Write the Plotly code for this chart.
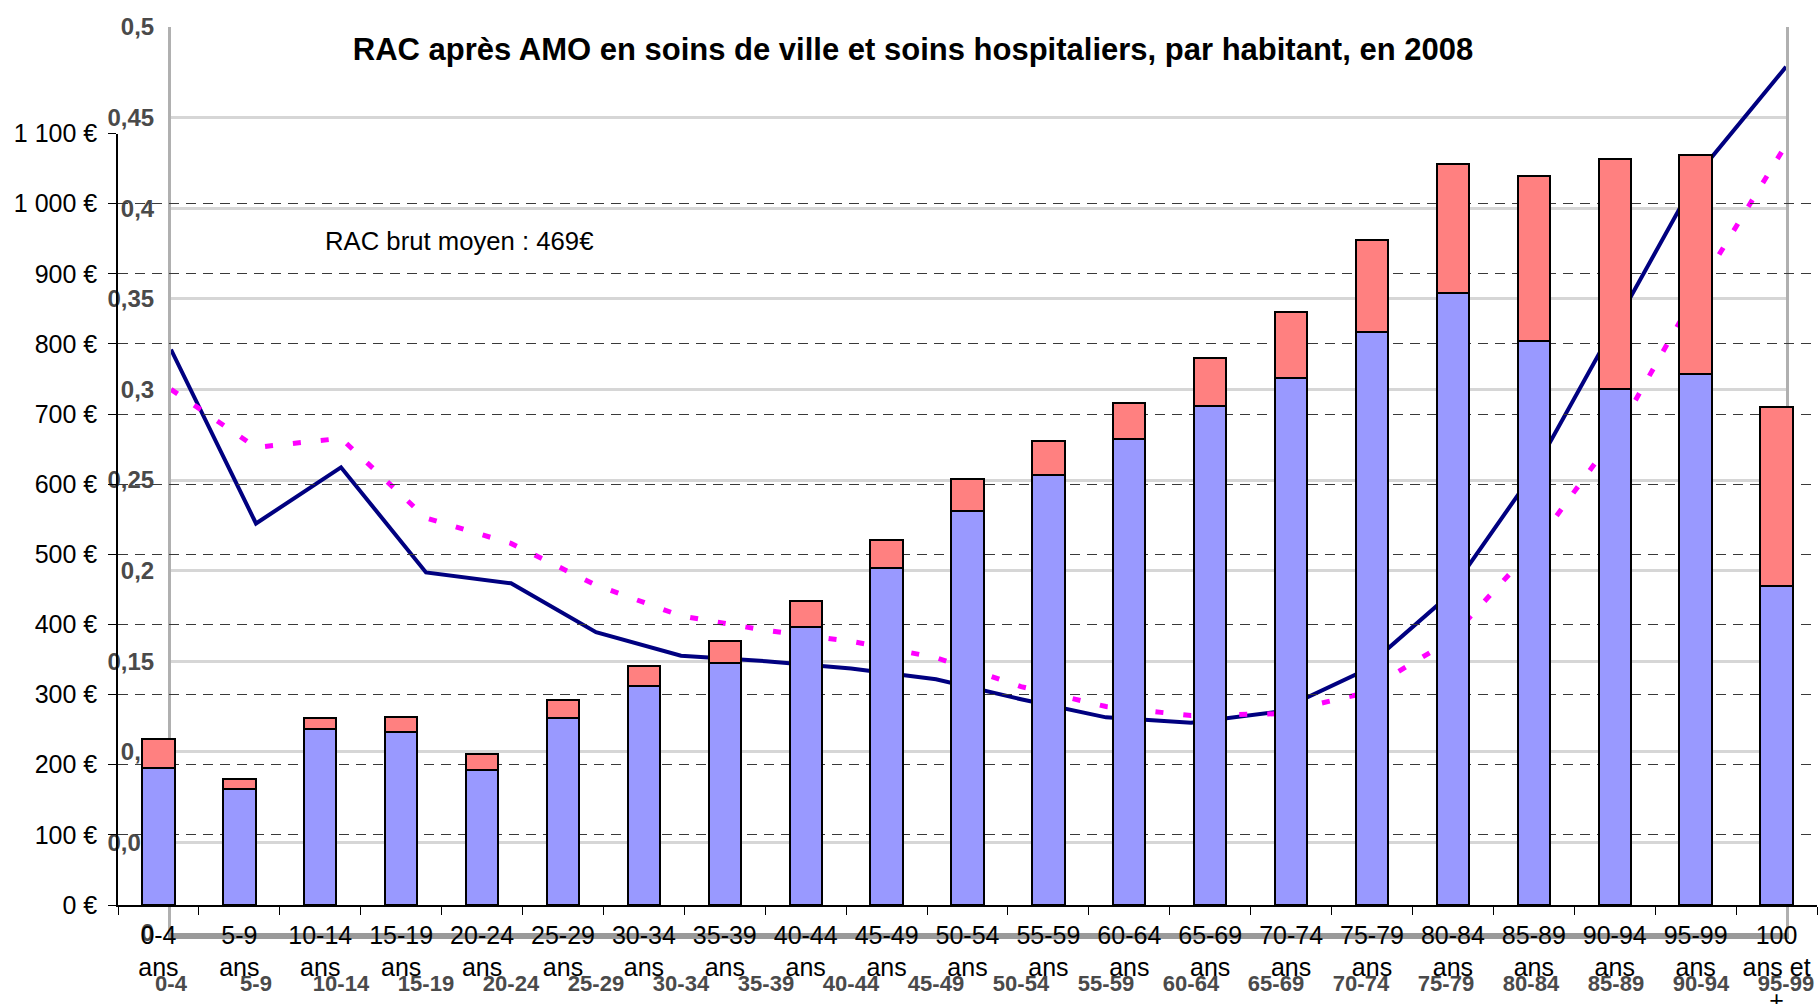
import plotly.graph_objects as go

W, H = 1818, 1004

# ---------------- foreground chart (bars, euros) ----------------
age_groups = ["0-4<br>ans", "5-9<br>ans", "10-14<br>ans", "15-19<br>ans", "20-24<br>ans",
              "25-29<br>ans", "30-34<br>ans", "35-39<br>ans", "40-44<br>ans", "45-49<br>ans",
              "50-54<br>ans", "55-59<br>ans", "60-64<br>ans", "65-69<br>ans", "70-74<br>ans",
              "75-79<br>ans", "80-84<br>ans", "85-89<br>ans", "90-94<br>ans", "95-99<br>ans",
              "100<br>ans et<br>+"]
rac_ville = [196, 165, 251, 246, 192, 267, 312, 345, 397, 480, 562, 613, 664, 712, 752,
             817, 873, 804, 736, 757, 455]
rac_hopital = [40, 15, 16, 22, 24, 26, 29, 32, 37, 41, 46, 48, 52, 68, 93,
               131, 183, 235, 327, 313, 255]
euro_ticks = [0, 100, 200, 300, 400, 500, 600, 700, 800, 900, 1000, 1100]
euro_tick_text = ["0 €", "100 €", "200 €", "300 €", "400 €", "500 €", "600 €", "700 €",
                  "800 €", "900 €", "1 000 €", "1 100 €"]

# ---------------- background chart (ratios) ----------------
bg_ages = ["0-4", "5-9", "10-14", "15-19", "20-24", "25-29", "30-34", "35-39", "40-44",
           "45-49", "50-54", "55-59", "60-64", "65-69", "70-74", "75-79", "80-84",
           "85-89", "90-94", "95-99"]
bg_solid = [0.322, 0.226, 0.257, 0.199, 0.193, 0.166, 0.153, 0.150, 0.146, 0.140, 0.129,
            0.119, 0.116, 0.122, 0.144, 0.185, 0.252, 0.336, 0.421, 0.478]
bg_dotted = [0.300, 0.268, 0.273, 0.229, 0.215, 0.192, 0.175, 0.167, 0.161, 0.152, 0.136,
             0.125, 0.120, 0.121, 0.132, 0.160, 0.211, 0.275, 0.358, 0.435]
bg_ticks = [0, 0.05, 0.1, 0.15, 0.2, 0.25, 0.3, 0.35, 0.4, 0.45, 0.5]
bg_tick_text = ["0", "0,05", "0,1", "0,15", "0,2", "0,25", "0,3", "0,35", "0,4", "0,45", "0,5"]

title_text = "RAC après AMO en soins de ville et soins hospitaliers, par habitant, en 2008"
note_text = "RAC brut moyen : 469€"

FONT = "Liberation Sans, Arial, sans-serif"

fig = go.Figure()

# background subplot (x, y)
fig.add_trace(go.Scatter(x=bg_ages, y=bg_solid, mode="lines", xaxis="x", yaxis="y",
                         line=dict(color="#000080", width=4), showlegend=False,
                         hoverinfo="skip"))
fig.add_trace(go.Scatter(x=bg_ages, y=bg_dotted, mode="lines", xaxis="x", yaxis="y",
                         line=dict(color="#FF00FF", width=5, dash="8px,20px"),
                         showlegend=False, hoverinfo="skip"))

# foreground subplot (x2, y2)
fig.add_trace(go.Bar(x=age_groups, y=rac_ville, xaxis="x2", yaxis="y2",
                     marker=dict(color="#9999FF", line=dict(color="black", width=2)),
                     width=0.4, showlegend=False, name="ville"))
fig.add_trace(go.Bar(x=age_groups, y=rac_hopital, xaxis="x2", yaxis="y2",
                     marker=dict(color="#FF8080", line=dict(color="black", width=2)),
                     width=0.4, showlegend=False, name="hôpital"))


def px(v):
    return v / W


def py(v):
    return 1 - v / H


fig.update_layout(
    width=W, height=H,
    autosize=False,
    margin=dict(l=0, r=0, t=0, b=0, pad=0, autoexpand=False),
    paper_bgcolor="white",
    plot_bgcolor="rgba(0,0,0,0)",
    barmode="stack",
    showlegend=False,
    font=dict(family=FONT, color="black", size=25),
    title=dict(text=title_text, x=px(913), xanchor="center", y=py(49), yanchor="middle",
               yref="container", automargin=False,
               font=dict(family=FONT, size=31, color="black", weight="bold")),
    xaxis=dict(domain=[px(171), px(1786)], type="category", range=[0, len(bg_ages) - 1],
               automargin=False,
               showgrid=False, zeroline=False, showline=True, linecolor="#9a9a9a",
               linewidth=6, ticks="", ticklabelstandoff=26,
               tickfont=dict(family=FONT, size=22, color="#4a4a4a", weight="bold"),
               tickangle=0),
    yaxis=dict(domain=[py(933), py(27)], range=[0, 0.5], tickvals=bg_ticks,
               automargin=False,
               ticktext=bg_tick_text, showgrid=True, gridcolor="#d6d6d6", gridwidth=3,
               zeroline=False, showline=True, linecolor="#b0b0b0", linewidth=3, mirror=True,
               ticks="", ticklabelstandoff=9,
               tickfont=dict(family=FONT, size=24, color="#4a4a4a", weight="bold")),
    xaxis2=dict(domain=[px(118), px(1817)], anchor="y2", type="category",
                automargin=False,
                range=[-0.5, len(age_groups) - 0.5], showgrid=False, zeroline=False,
                showline=True, linecolor="black", linewidth=1.5, ticks="outside",
                tickson="boundaries", ticklen=8, tickcolor="black", tickwidth=1,
                ticklabelstandoff=7, tickangle=0,
                tickfont=dict(family=FONT, size=25, color="black")),
    yaxis2=dict(domain=[py(905), py(133.5)], anchor="x2", range=[0, 1100],
                automargin=False,
                tickvals=euro_ticks, ticktext=euro_tick_text, showgrid=True,
                gridcolor="#3a3a3a", gridwidth=1, griddash="10px,7px", zeroline=False,
                showline=True, linecolor="black", linewidth=1.5, ticks="outside",
                ticklen=8, tickcolor="black", ticklabelstandoff=6,
                tickfont=dict(family=FONT, size=25, color="black")),
    annotations=[dict(text=note_text, xref="paper", yref="paper", x=px(323), y=py(241),
                      xanchor="left", yanchor="middle", showarrow=False,
                      font=dict(family=FONT, size=25.7, color="black"))],
)

fig.write_html("out.html", config={"displayModeBar": False},
               post_script="document.body.style.margin='0';document.body.style.overflow='hidden';")
